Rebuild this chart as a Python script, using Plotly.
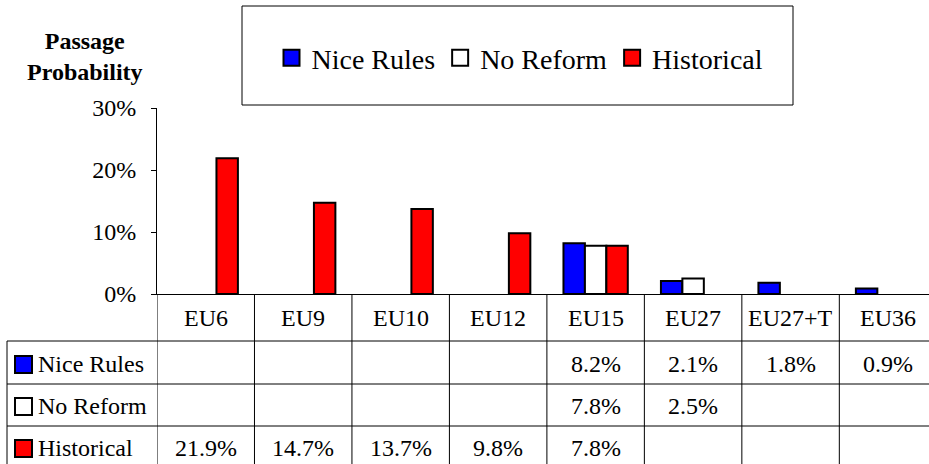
import plotly.graph_objects as go

categories = ["EU6", "EU9", "EU10", "EU12", "EU15", "EU27", "EU27+T", "EU36"]
nice_rules = [None, None, None, None, 8.2, 2.1, 1.8, 0.9]
no_reform = [None, None, None, None, 7.8, 2.5, None, None]
historical = [21.9, 14.7, 13.7, 9.8, 7.8, None, None, None]
series_names = ["Nice Rules", "No Reform", "Historical"]
series_colors = ["#0000FF", "#FFFFFF", "#FF0000"]
y_ticks = [0, 10, 20, 30]

FONT = "Liberation Serif"
TXT = 24
W, H = 929, 464
L, R, T, B = 157, 0, 108, 170
PH = H - T - B
PW = W - L - R

def py(p):
    return (H - B - p) / PH

def px(p):
    return (p - L) / PW

fig = go.Figure()
series = [nice_rules, no_reform, historical]
for name, vals, col in zip(series_names, series, series_colors):
    fig.add_trace(go.Bar(
        x=categories, y=vals, name=name, showlegend=False,
        marker=dict(color=col, line=dict(color="black", width=2)),
        hoverinfo="skip",
    ))
for name, col in zip(series_names, series_colors):
    fig.add_trace(go.Scatter(
        x=[None], y=[None], name=name, mode="markers",
        marker=dict(symbol="square", size=16, color=col,
                    line=dict(color="black", width=2)),
    ))

shapes = []
annotations = []
shapes.append(dict(type="rect", xref="paper", yref="paper",
                   x0=px(242), x1=px(793), y0=py(105), y1=py(6),
                   line=dict(color="black", width=1), fillcolor="rgba(0,0,0,0)"))
bottom = py(H + 5)
for i in range(len(categories)):
    shapes.append(dict(type="line", xref="x", yref="paper",
                       x0=i - 0.5, x1=i - 0.5, y0=0, y1=bottom,
                       line=dict(color="black", width=1)))
row_tops = [341, 384, 426]
for r in row_tops:
    shapes.append(dict(type="line", xref="paper", yref="paper",
                       x0=px(7), x1=1, y0=py(r), y1=py(r),
                       line=dict(color="black", width=1)))
shapes.append(dict(type="line", xref="paper", yref="paper",
                   x0=px(7), x1=px(7), y0=py(341), y1=bottom,
                   line=dict(color="black", width=1)))

for i, c in enumerate(categories):
    annotations.append(dict(x=i, y=py(318), xref="x", yref="paper", text=c,
                            showarrow=False, font=dict(size=TXT, family=FONT),
                            xanchor="center", yanchor="middle"))

row_centers = [364, 406, 448]
for name, vals, col, rc in zip(series_names, series, series_colors, row_centers):
    shapes.append(dict(type="rect", xref="paper", yref="paper",
                       x0=px(15), x1=px(32), y0=py(rc + 9), y1=py(rc - 8),
                       fillcolor=col, line=dict(color="black", width=2)))
    annotations.append(dict(x=px(36), y=py(rc), xref="paper", yref="paper", text=name,
                            showarrow=False, font=dict(size=TXT, family=FONT),
                            xanchor="left", yanchor="middle"))
    for i, v in enumerate(vals):
        if v is None:
            continue
        annotations.append(dict(x=i, y=py(rc), xref="x", yref="paper", text=f"{v:.1f}%",
                                showarrow=False, font=dict(size=TXT, family=FONT),
                                xanchor="center", yanchor="middle"))

annotations.append(dict(x=px(85), y=py(56), xref="paper", yref="paper",
                        text="<b>Passage<br>Probability</b>", showarrow=False,
                        font=dict(size=TXT, family=FONT),
                        xanchor="center", yanchor="middle"))

fig.update_layout(
    width=W, height=H,
    margin=dict(l=L, r=R, t=T, b=B, autoexpand=False),
    paper_bgcolor="white", plot_bgcolor="white",
    barmode="group", bargap=0.34, bargroupgap=0,
    font=dict(color="black", family=FONT),
    shapes=shapes, annotations=annotations,
    legend=dict(orientation="h", x=px(520), xanchor="center", y=py(58), yanchor="middle",
                font=dict(size=28, family=FONT),
                itemsizing="trace", bgcolor="rgba(0,0,0,0)", borderwidth=0),
    xaxis=dict(type="category", range=[-0.5, 7.42], showticklabels=False,
               showline=True, linecolor="black", linewidth=1, ticks="",
               showgrid=False, zeroline=False, fixedrange=True),
    yaxis=dict(range=[0, 30], tickvals=y_ticks, ticktext=[f"{t}%" for t in y_ticks],
               ticks="outside", ticklen=5, tickcolor="black", showline=True,
               linecolor="black", linewidth=1, showgrid=False, zeroline=False,
               tickfont=dict(size=TXT, family=FONT),
               ticklabelstandoff=10, automargin=False, fixedrange=True),
)

post = ("document.body.style.margin='0';"
        "var st=document.createElement('style');"
        "st.textContent=\"svg text, svg tspan, .js-plotly-plot .plotly {font-family: 'Liberation Serif', 'Times New Roman', serif !important;}\";"
        "document.head.appendChild(st);")
fig.write_html("out.html", config={"displayModeBar": False}, post_script=post)
